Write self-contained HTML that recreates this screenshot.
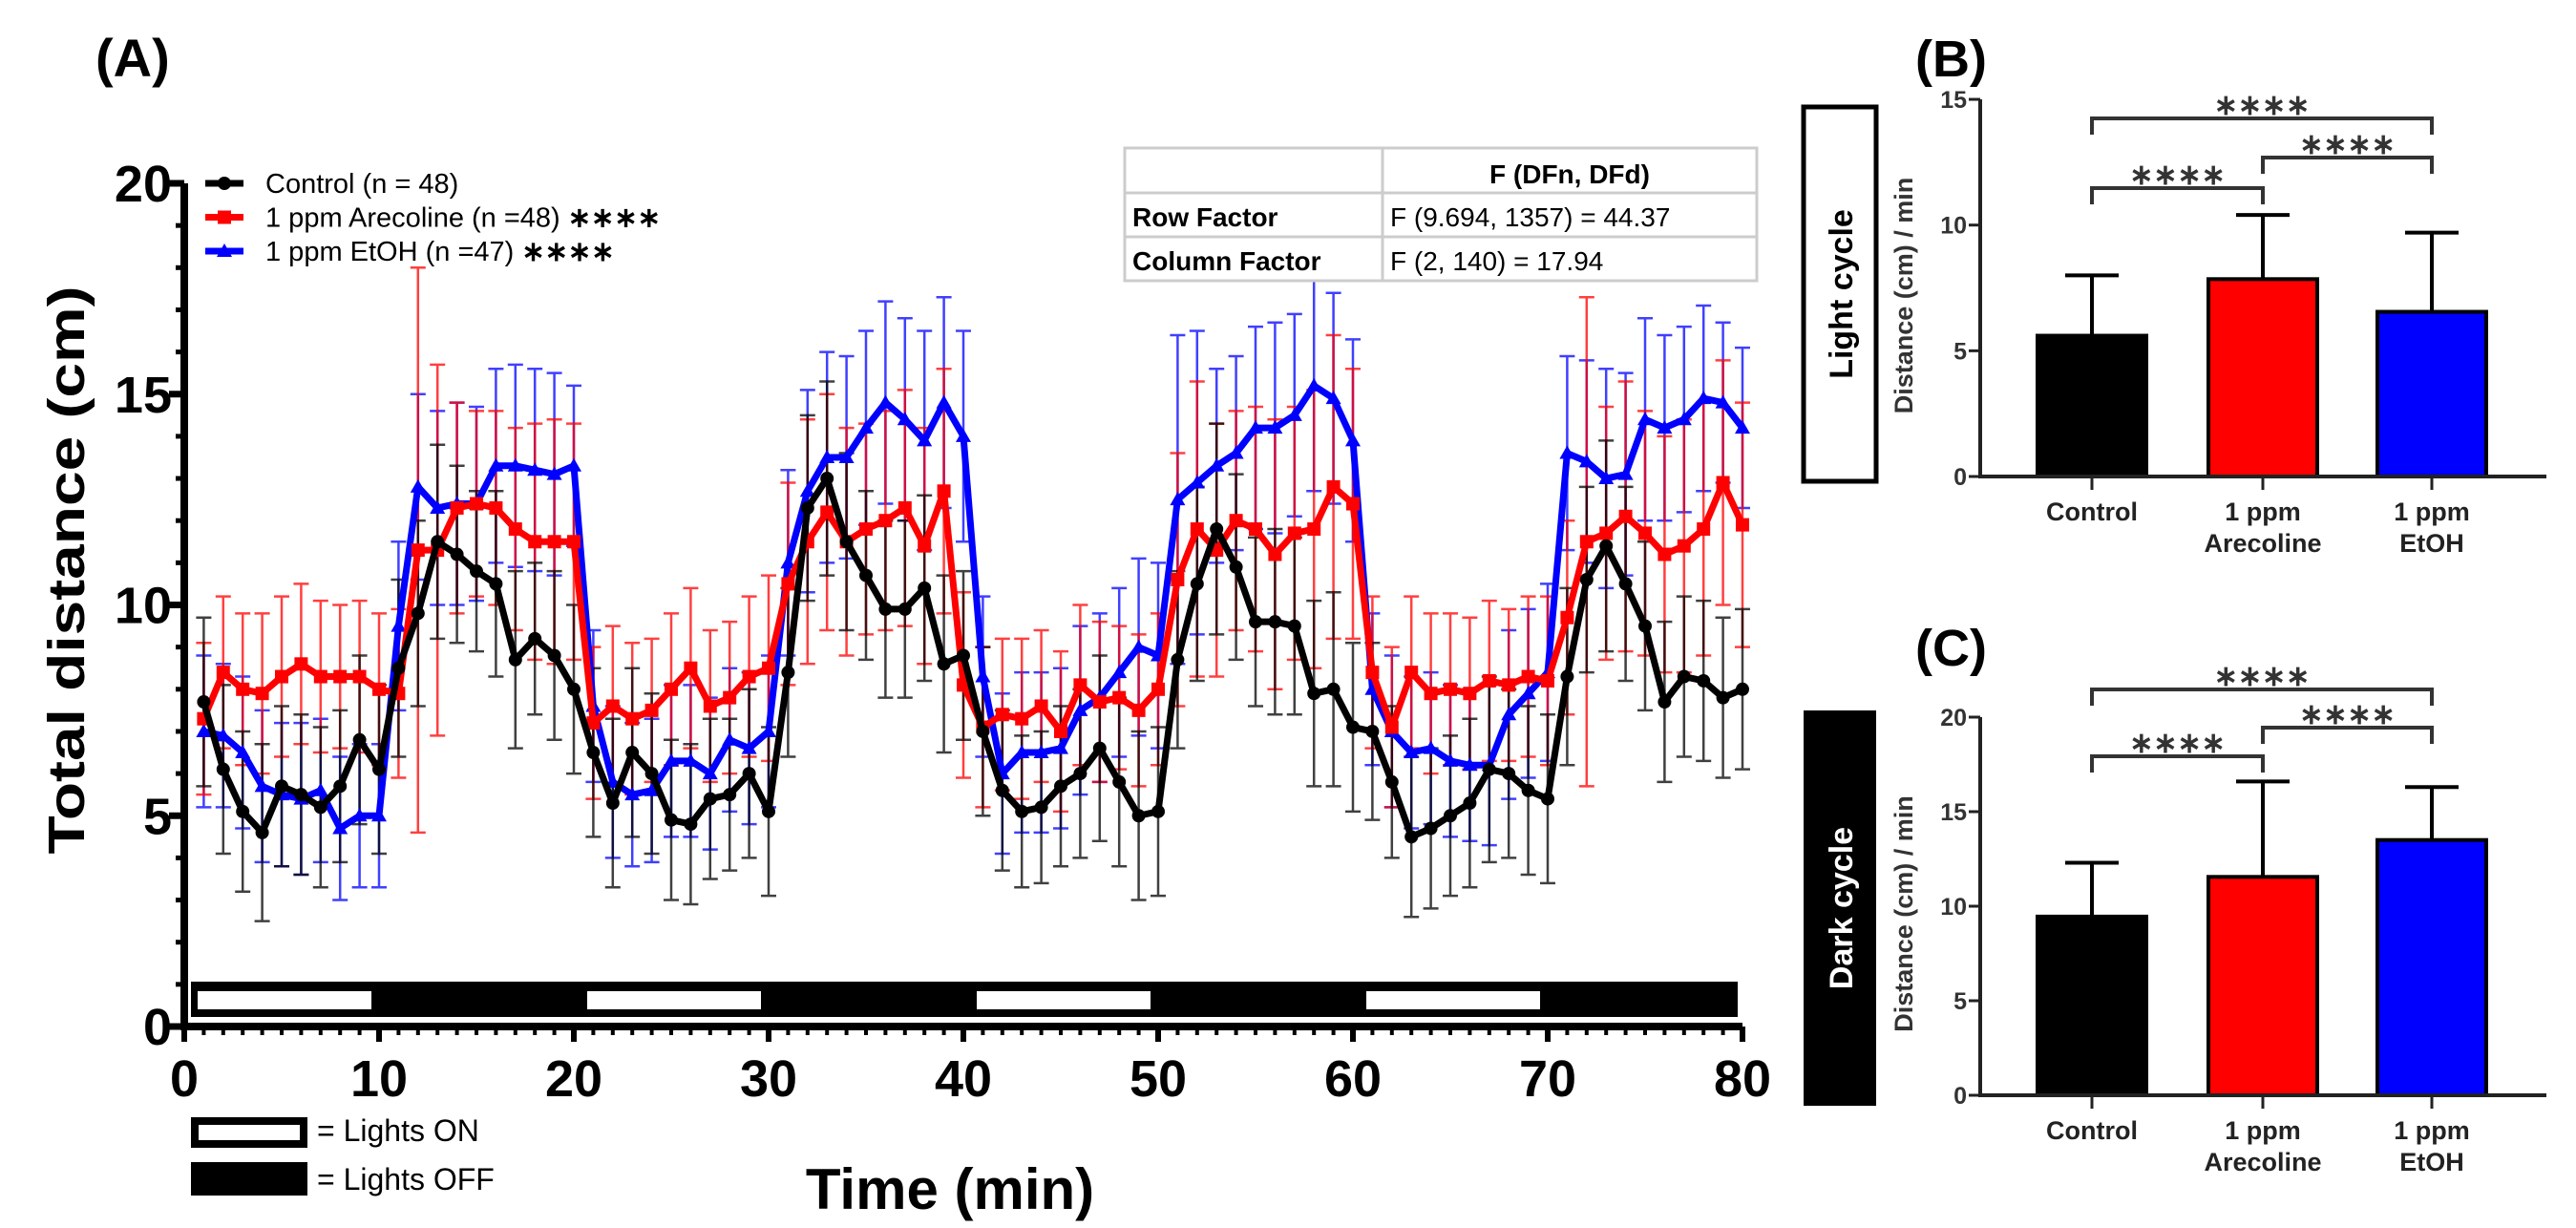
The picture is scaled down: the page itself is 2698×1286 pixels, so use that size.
<!DOCTYPE html>
<html><head><meta charset="utf-8"><style>
html,body{margin:0;padding:0;background:#fff}
svg{display:block}
text{font-family:"Liberation Sans",Arial,sans-serif}
</style></head><body>
<svg id="fig" width="2698" height="1286" viewBox="0 0 2698 1286" xmlns="http://www.w3.org/2000/svg">
<text x="100" y="80" font-size="56" font-weight="bold">(A)</text>
<text x="2006" y="80" font-size="54" font-weight="bold">(B)</text>
<text x="2006" y="697" font-size="54" font-weight="bold">(C)</text>
<g id="pa"></g>
<g id="pb"></g>
<g id="pc"></g>
<g font-size="28">
<rect x="1178" y="155" width="662" height="139" fill="#fff" stroke="#ccc" stroke-width="3"/>
<line x1="1178" y1="202" x2="1840" y2="202" stroke="#ccc" stroke-width="3"/>
<line x1="1178" y1="248" x2="1840" y2="248" stroke="#ccc" stroke-width="3"/>
<line x1="1448" y1="155" x2="1448" y2="294" stroke="#ccc" stroke-width="3"/>
<text x="1644" y="192" text-anchor="middle" font-weight="bold">F (DFn, DFd)</text>
<text x="1186" y="237" font-weight="bold">Row Factor</text>
<text x="1456" y="237">F (9.694, 1357) = 44.37</text>
<text x="1186" y="283" font-weight="bold">Column Factor</text>
<text x="1456" y="283">F (2, 140) = 17.94</text>
</g>
<g>
<rect x="204" y="1174" width="114" height="24" fill="#fff" stroke="#000" stroke-width="8"/>
<text x="332" y="1195" font-size="32">= Lights ON</text>
<rect x="200" y="1217" width="122" height="35" fill="#000"/>
<text x="332" y="1246" font-size="32">= Lights OFF</text>
</g>
</svg>
<script>
const minutes = [];
for (let i = 1; i <= 80; i++) minutes.push(i);
const controlVals = [7.7,6.1,5.1,4.6,5.7,5.5,5.2,5.7,6.8,6.1,8.5,9.8,11.5,11.2,10.8,10.5,8.7,9.2,8.8,8.0,6.5,5.3,6.5,6.0,4.9,4.8,5.4,5.5,6.0,5.1,8.4,12.3,13.0,11.5,10.7,9.9,9.9,10.4,8.6,8.8,7.0,5.6,5.1,5.2,5.7,6.0,6.6,5.8,5.0,5.1,8.7,10.5,11.8,10.9,9.6,9.6,9.5,7.9,8.0,7.1,7.0,5.8,4.5,4.7,5.0,5.3,6.1,6.0,5.6,5.4,8.3,10.6,11.4,10.5,9.5,7.7,8.3,8.2,7.8,8.0];
const arecVals = [7.3,8.4,8.0,7.9,8.3,8.6,8.3,8.3,8.3,8.0,7.9,11.3,11.3,12.3,12.4,12.3,11.8,11.5,11.5,11.5,7.2,7.6,7.3,7.5,8.0,8.5,7.6,7.8,8.3,8.5,10.5,11.5,12.2,11.5,11.8,12.0,12.3,11.4,12.7,8.1,7.1,7.4,7.3,7.6,7.0,8.1,7.7,7.8,7.5,8.0,10.6,11.8,11.3,12.0,11.8,11.2,11.7,11.8,12.8,12.4,8.4,7.1,8.4,7.9,8.0,7.9,8.2,8.1,8.3,8.2,9.7,11.5,11.7,12.1,11.7,11.2,11.4,11.8,12.9,11.9];
const etohVals = [7.0,6.9,6.5,5.7,5.5,5.4,5.6,4.7,5.0,5.0,9.5,12.8,12.3,12.4,12.4,13.3,13.3,13.2,13.1,13.3,7.6,5.8,5.5,5.6,6.3,6.3,6.0,6.8,6.6,7.0,11.0,12.7,13.5,13.5,14.2,14.8,14.4,13.9,14.8,14.0,8.3,6.0,6.5,6.5,6.6,7.5,7.8,8.4,9.0,8.8,12.5,12.9,13.3,13.6,14.2,14.2,14.5,15.2,14.9,13.9,8.0,7.0,6.5,6.6,6.3,6.2,6.2,7.4,7.9,8.4,13.6,13.4,13.0,13.1,14.4,14.2,14.4,14.9,14.8,14.2];
const controlErr = [2.0,2.0,1.9,2.1,1.9,1.9,1.9,1.8,2.0,2.0,2.1,2.2,2.3,2.1,1.9,2.2,2.1,1.8,2.0,2.0,2.0,2.0,2.0,1.9,1.9,1.9,1.9,1.8,2.0,2.0,2.0,2.2,2.3,2.1,2.0,2.1,2.1,2.2,2.1,2.0,2.0,1.9,1.8,1.8,1.9,2.0,2.2,2.0,2.0,2.0,2.1,2.3,2.5,2.2,2.0,2.2,2.1,2.2,2.3,2.0,2.1,1.8,1.9,1.9,1.9,2.0,2.2,2.0,2.0,2.0,2.1,2.2,2.5,2.3,2.0,1.9,1.9,1.9,1.9,1.9];
const arecErr = [1.8,1.8,1.8,1.9,1.9,1.9,1.8,1.7,1.8,1.8,2.0,6.7,4.4,2.5,2.2,2.3,2.4,2.8,2.9,2.8,1.8,1.9,1.8,1.7,1.8,1.9,1.8,1.8,1.9,2.2,2.4,2.9,2.8,2.7,2.5,2.6,2.8,2.8,2.9,2.2,1.9,1.8,1.9,1.8,1.9,1.9,1.9,1.7,1.8,1.8,3.0,3.5,3.0,2.6,2.9,3.2,3.0,3.3,3.6,3.2,1.8,1.9,1.8,1.9,1.8,1.8,1.9,1.8,1.9,2.0,2.3,5.8,3.0,3.2,2.9,2.8,3.0,3.0,2.9,2.9];
const etohErr = [1.8,1.7,1.8,1.8,1.7,1.8,1.7,1.7,1.7,1.7,2.0,2.2,2.3,2.4,2.3,2.3,2.4,2.4,2.4,1.9,1.8,1.8,1.7,1.7,1.8,1.8,1.8,1.7,1.8,1.8,2.2,2.4,2.5,2.4,2.3,2.4,2.4,2.6,2.5,2.5,1.9,1.9,1.9,1.9,1.9,2.0,2.0,2.0,2.1,2.2,3.9,3.6,2.3,2.3,2.4,2.5,2.4,2.5,2.5,2.4,1.8,1.8,1.8,1.8,1.8,1.8,1.9,2.0,2.0,2.1,2.3,2.4,2.6,2.4,2.4,2.2,2.2,2.2,1.9,1.9];
const seriesNames = ["Control (n = 48)", "1 ppm Arecoline (n =48)", "1 ppm EtOH (n =47)"];
const yTicksA = [0, 5, 10, 15, 20];
const xTicksA = [0, 10, 20, 30, 40, 50, 60, 70, 80];
const lightsOnStart = [0, 20, 40, 60];
const lightsOnEnd = [10, 30, 50, 70];
const barCats = [["Control"], ["1 ppm", "Arecoline"], ["1 ppm", "EtOH"]];
const lightMeans = [5.6, 7.85, 6.55];
const lightErrTop = [8.0, 10.4, 9.7];
const darkMeans = [9.45, 11.55, 13.5];
const darkErrTop = [12.3, 16.6, 16.3];
const lightTicks = [0, 5, 10, 15];
const darkTicks = [0, 5, 10, 15, 20];
const sigLabel = "\u2217\u2217\u2217\u2217";

const NS = "http://www.w3.org/2000/svg";
function mk(parent, tag, attrs, txt) {
  const e = document.createElementNS(NS, tag);
  for (const k in attrs) e.setAttribute(k, attrs[k]);
  if (txt !== undefined) e.textContent = txt;
  parent.appendChild(e);
  return e;
}
// ---------- Panel A ----------
const pa = document.getElementById("pa");
const xA = t => 193 + t * 20.4;
const yA = v => 1075 - v * 44.15;
let lb = mk(pa, "rect", {x: xA(0) + 7, y: 1028, width: xA(80) - xA(0) - 12, height: 37, fill: "#000"});


for (let i = 0; i < lightsOnStart.length; i++) {
  const r = mk(pa, "rect", {x: xA(lightsOnStart[i]) + 14, y: 1038, width: xA(lightsOnEnd[i]) - xA(lightsOnStart[i]) - 22, height: 19, fill: "#fff"});
  
  
}
let ax = mk(pa, "path", {d: `M${xA(0)} ${yA(20)} V${yA(0)} H${xA(80)}`, fill: "none", stroke: "#000", "stroke-width": 8});


for (let v = 0; v <= 20; v++) {
  const major = v % 5 === 0;
  mk(pa, "line", {x1: xA(0) - (major ? 16 : 9), x2: xA(0), y1: yA(v), y2: yA(v), stroke: "#000", "stroke-width": major ? 7 : 5});
}
for (let t = 0; t <= 80; t++) {
  const major = t % 10 === 0;
  mk(pa, "line", {x1: xA(t), x2: xA(t), y1: yA(0), y2: yA(0) + (major ? 16 : 9), stroke: "#000", "stroke-width": major ? 6 : 4});
}
yTicksA.forEach(v => {
  const t = mk(pa, "text", {x: 180, y: yA(v) + 19, "text-anchor": "end", "font-size": 54, "font-weight": "bold"}, String(v));
  
  
});
xTicksA.forEach(v => {
  const t = mk(pa, "text", {x: xA(v), y: 1148, "text-anchor": "middle", "font-size": 54, "font-weight": "bold"}, String(v));
  
  
});
let yt = mk(pa, "text", {x: 0, y: 0, transform: "translate(88,597) rotate(-90)", "text-anchor": "middle", "font-size": 54, "font-weight": "bold", textLength: 595, lengthAdjust: "spacingAndGlyphs"}, "Total distance (cm)");


let xt = mk(pa, "text", {x: 995, y: 1266, "text-anchor": "middle", "font-size": 60, "font-weight": "bold"}, "Time (min)");



const series = [
  {vals: controlVals, err: controlErr, color: "#000", mark: "circle", name: "control"},
  {vals: arecVals, err: arecErr, color: "#f00", mark: "square", name: "arecoline"},
  {vals: etohVals, err: etohErr, color: "#00f", mark: "triangle", name: "etoh"}
];
function marker(g, kind, cx, cy, color) {
  if (kind === "circle") return mk(g, "circle", {cx: cx, cy: cy, r: 7, fill: color});
  if (kind === "square") return mk(g, "rect", {x: cx - 7, y: cy - 7, width: 14, height: 14, fill: color});
  return mk(g, "path", {d: `M${cx} ${cy - 8} L${cx + 8} ${cy + 6} L${cx - 8} ${cy + 6}Z`, fill: color});
}
[2, 1, 0].forEach(si => {
  const s = series[si];
  const g = mk(pa, "g", {});
  
  
  s.vals.forEach((v, i) => {
    const x = xA(minutes[i]), e = s.err[i];
    const eb = mk(g, "path", {d: `M${x} ${yA(v + e)} V${yA(v - e)} M${x - 8} ${yA(v + e)} H${x + 8} M${x - 8} ${yA(v - e)} H${x + 8}`, stroke: s.color, "stroke-width": 2.5, fill: "none", opacity: 0.75});
    
    
  });
});
[2, 1, 0].forEach(si => {
  const s = series[si];
  const g = mk(pa, "g", {});
  
  
  const d = s.vals.map((v, i) => (i ? "L" : "M") + xA(minutes[i]) + " " + yA(v)).join(" ");
  const ln = mk(g, "path", {d: d, stroke: s.color, "stroke-width": 7, fill: "none", "stroke-linejoin": "round"});
  
  
  s.vals.forEach((v, i) => {
    const m = marker(g, s.mark, xA(minutes[i]), yA(v), s.color);
    
    
  });
});
series.forEach((s, i) => {
  const y = 192 + i * 35.5;
  const g = mk(pa, "g", {});
  
  
  mk(g, "line", {x1: 215, x2: 255, y1: y, y2: y, stroke: s.color, "stroke-width": 7});
  marker(g, s.mark, 235, y, s.color);
  const t = mk(g, "text", {x: 278, y: y + 10, "font-size": 29}, seriesNames[i]);
  
  
  if (i > 0) mk(t, "tspan", {"font-weight": "bold", dx: 8}, sigLabel);
});

// ---------- Bar panels ----------
function barPanel(g, cfg) {
  const y = v => cfg.y0 - v * cfg.k;
  const colors = ["#000", "#f00", "#00f"];
  const names = ["control", "arecoline", "etoh"];
  const bx = mk(g, "rect", {x: 1889, y: cfg.boxY, width: 76, height: cfg.boxH, fill: cfg.dark ? "#000" : "#fff", stroke: "#000", "stroke-width": cfg.dark ? 0 : 5});
  
  
  const bt = mk(g, "text", {x: 0, y: 0, transform: `translate(1940,${cfg.boxY + cfg.boxH / 2}) rotate(-90)`, "text-anchor": "middle", "font-size": 34, "font-weight": "bold", fill: cfg.dark ? "#fff" : "#000"}, cfg.dark ? "Dark cycle" : "Light cycle");
  
  
  const cx = [2191, 2370, 2547];
  cfg.means.forEach((m, i) => {
    const eb = mk(g, "path", {d: `M${cx[i]} ${y(m)} V${y(cfg.errTop[i])} M${cx[i] - 28} ${y(cfg.errTop[i])} H${cx[i] + 28}`, stroke: "#000", "stroke-width": 4, fill: "none"});
    
    
    const b = mk(g, "rect", {x: cx[i] - 57, y: y(m), width: 114, height: y(0) - y(m), fill: colors[i], stroke: "#000", "stroke-width": 4});
    
    
    cfg.cats[i].forEach((line, j) => {
      const t = mk(g, "text", {x: cx[i], y: y(0) + 46 + j * 33, "text-anchor": "middle", "font-size": 27, "font-weight": "bold", fill: "#222"}, line);
      
      
    });
    mk(g, "line", {x1: cx[i], x2: cx[i], y1: y(0), y2: y(0) + 14, stroke: "#222", "stroke-width": 3});
  });
  const axp = mk(g, "path", {d: `M2074 ${y(cfg.ticks[cfg.ticks.length - 1])} V${y(0)} H2667`, stroke: "#222", "stroke-width": 4, fill: "none"});
  
  
  cfg.ticks.forEach(v => {
    mk(g, "line", {x1: 2062, x2: 2074, y1: y(v), y2: y(v), stroke: "#222", "stroke-width": 3});
    const t = mk(g, "text", {x: 2060, y: y(v) + 9, "text-anchor": "end", "font-size": 25, "font-weight": "bold", fill: "#333"}, String(v));
    
    
  });
  const yl = mk(g, "text", {x: 0, y: 0, transform: `translate(2003,${(y(0) + y(cfg.ticks[cfg.ticks.length - 1])) / 2 + 8}) rotate(-90)`, "text-anchor": "middle", "font-size": 27, "font-weight": "bold", fill: "#333"}, "Distance (cm) / min");
  
  
  cfg.brackets.forEach(br => {
    const a = cx[br[0]], b = cx[br[1]];
    const p = mk(g, "path", {d: `M${a} ${br[2] + 17} V${br[2]} H${b} V${br[2] + 17}`, stroke: "#333", "stroke-width": 4, fill: "none"});
    
    
    const s = mk(g, "text", {x: (a + b) / 2, y: br[2] - 4, "text-anchor": "middle", "font-size": 30, "font-weight": "bold", fill: "#333"}, sigLabel);
    
    
  });
}
barPanel(document.getElementById("pb"), {y0: 499, k: 26.33, means: lightMeans, errTop: lightErrTop, ticks: lightTicks, cats: barCats, dark: false, boxY: 112, boxH: 392, brackets: [[0, 2, 124], [1, 2, 165], [0, 1, 197]]});
barPanel(document.getElementById("pc"), {y0: 1147, k: 19.8, means: darkMeans, errTop: darkErrTop, ticks: darkTicks, cats: barCats, dark: true, boxY: 744, boxH: 414, brackets: [[0, 2, 722], [1, 2, 762], [0, 1, 792]]});
</script>
</body></html>
